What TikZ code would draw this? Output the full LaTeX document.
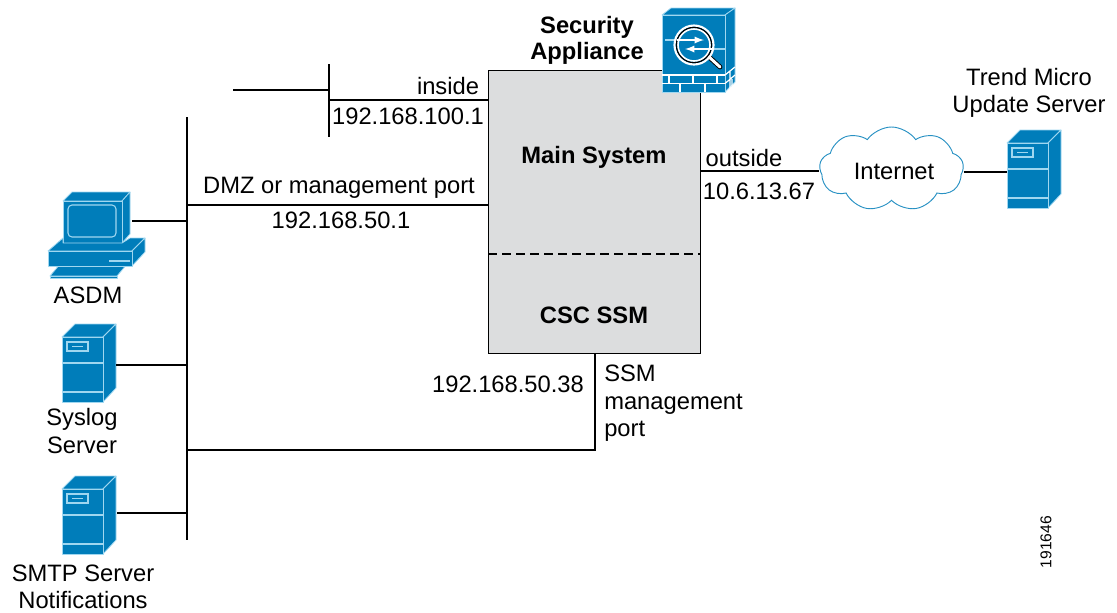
\documentclass[tikz,border=0pt]{standalone}
\usepackage{fontspec}
\setmainfont{Liberation Sans}
\usetikzlibrary{shapes.symbols}
\definecolor{iconblue}{RGB}{0,125,186}
\definecolor{iconline}{RGB}{160,215,240}
\definecolor{boxgray}{RGB}{220,221,222}
\definecolor{cloudline}{RGB}{40,145,195}
\tikzset{
  wire/.style={black,line width=0.85pt},
  label/.style={inner sep=0pt,font=\fontsize{17.8}{20.4}\selectfont,align=center},
  boldlabel/.style={label,font=\fontsize{17.8}{19}\selectfont\bfseries},
  iconedge/.style={draw=iconline,fill=iconblue,line width=0.6pt,line join=round},
  iconwhite/.style={draw=iconline,line width=0.8pt},
  servericon/.pic={
    \path[iconedge] (0,0) -- (41,0) -- (54,-13) -- (13,-13) -- cycle;
    \path[iconedge] (41,0) -- (54,-13) -- (54,51) -- (41,65) -- cycle;
    \path[iconedge] (0,0) rectangle (41,65);
    \draw[iconwhite] (0,26) -- (41,26) (0,55) -- (41,55);
    \draw[iconwhite] (5,5) rectangle (26,14);
    \draw[iconwhite] (10,9.5) -- (21,9.5);
    \coordinate (-port) at (54,28);
    \coordinate (-left) at (0,29);
  },
  pcicon/.pic={
    \path[iconedge] (0,9) -- (9,0) -- (67,0) -- (59,9) -- cycle;
    \path[iconedge] (59,9) -- (67,0) -- (67,42) -- (59,51) -- cycle;
    \path[iconedge] (0,9) rectangle (59,51);
    \draw[iconwhite,rounded corners=3pt] (5,13) rectangle (53,45);
    \path[iconedge] (-15,59) -- (0,46) -- (0,51) -- (59,51) -- (67,46) -- (82,46) -- (69,59) -- cycle;
    \path[iconedge] (69,59) -- (82,46) -- (82,60) -- (69,74) -- cycle;
    \path[iconedge] (-15,59) rectangle (69,74);
    \draw[iconline,line width=1.2pt] (46,69) -- (67,69);
    \path[iconedge] (-5,74.5) -- (-13,84) -- (54,84) -- (62,74.5) -- cycle;
    \path[iconedge] (-13,84) rectangle (54,86);
    \coordinate (-port) at (69,29);
  },
  firewallicon/.pic={
    \path[iconedge] (0,15) -- (9,8) -- (73,8) -- (63,15) -- cycle;
    \path[iconedge] (63,15) -- (73,8) -- (73,82) -- (63,92) -- cycle;
    \path[iconedge] (0,15) rectangle (63,92);
    \draw[white,line width=0.9pt] (0,75) -- (63,75) (0,83.5) -- (63,83.5);
    \draw[white,line width=0.9pt] (7,75) -- (7,83.5) (31,75) -- (31,83.5) (55,75) -- (55,83.5);
    \draw[white,line width=0.9pt] (18,83.5) -- (18,92) (43,83.5) -- (43,92);
    \draw[white,line width=0.9pt] (63,75) -- (73,67) (63,83.5) -- (73,75) (68,71) -- (68,88) (70,79) -- (70,86);
    \draw[iconline,line width=0.8pt] (3,40) -- (18,40) (52,49) -- (63,49);
    \draw[black,line width=3.6pt,line cap=round] (46,56) -- (58,67);
    \draw[white,line width=2.2pt,line cap=round] (46,56) -- (58,67);
    \draw[white,line width=1.6pt] (32,45) circle (19.5);
    \draw[black,line width=1pt] (32,45) circle (17.5);
    \draw[white,line width=1.2pt] (32,45) circle (16);
    \draw[white,line width=1.4pt,-latex] (15,40) -- (42,40);
    \draw[white,line width=1.4pt,-latex] (50,49) -- (23,49);
  }
}
\begin{document}
\begin{tikzpicture}[x=0.75pt,y=-0.75pt]
\useasboundingbox (0,0) rectangle (1117,612);
\node[draw=black,fill=boxgray,line width=0.7pt,minimum width=159pt,minimum height=212.25pt,inner sep=0pt] (asa) at (594,211.5) {};
\coordinate (dashleft) at (488,254);
\coordinate (dashright) at (700,254);
\draw[black,line width=0.8pt,dash pattern=on 7pt off 3.5pt] (dashleft) -- (dashright);
\node[boldlabel] (mainlabel) at (594,157) {Main System};
\node[boldlabel] (csclabel) at (594,315) {CSC SSM};
\node[boldlabel] (seclabel) at (587,40.5) {Security\\Appliance};
\pic (fw) at (662,0) {firewallicon};
\coordinate (busup) at (187,117);
\coordinate (busdown) at (187,540);
\draw[wire] (busup) -- (busdown);
\coordinate (insidetop) at (329,64);
\coordinate (insidedown) at (329,137);
\coordinate (insidestub) at (233,90);
\coordinate (insideport) at (329,100);
\draw[wire] (insidetop) -- (insidedown);
\draw[wire] (insidestub) -- (insidestub -| insidetop);
\draw[wire] (insideport) -- (insideport -| asa.west);
\coordinate (dmzport) at (187,205);
\draw[wire] (dmzport) -- (dmzport -| asa.west);
\pic (pc) at (63,192) {pcicon};
\pic (syslog) at (62,337) {servericon};
\pic (smtp) at (62,489) {servericon};
\pic (trend) at (1007,143) {servericon};
\coordinate (smtpport) at (117,513);
\draw[wire] (pc-port) -- (pc-port -| busup);
\draw[wire] (syslog-port) -- (syslog-port -| busup);
\draw[wire] (smtpport) -- (smtpport -| busup);
\coordinate (ssmtop) at (595,353);
\coordinate (ssmbus) at (187,450);
\draw[wire] (ssmtop) |- (ssmbus);
\node[cloud,cloud puffs=9,cloud puff arc=110,aspect=1.75,draw=cloudline,line width=0.7pt,minimum width=108pt,minimum height=63pt,inner sep=0pt] (inet) at (891.5,169) {};
\node[label] (inetlabel) at (894,171) {Internet};
\coordinate (outport) at (700,171);
\draw[wire] (outport) -- (inet.west |- outport);
\draw[wire] (inet.east |- trend-left) -- (trend-left);
\node[label] (insidelabel) at (448,86) {inside};
\node[label] (insideip) at (408,116) {192.168.100.1};
\node[label] (dmzlabel) at (339,187.5) {DMZ or management port};
\node[label] (dmzip) at (341,220) {192.168.50.1};
\node[label] (outlabel) at (744,158) {outside};
\node[label] (outip) at (759,191) {10.6.13.67};
\node[label] (ssmip) at (508,384) {192.168.50.38};
\node[label,align=left,anchor=north west] (ssmlabel) at (604,365) {SSM\\management\\port};
\node[label] (trendlabel) at (1029,92.5) {Trend Micro\\Update Server};
\node[label] (asdmlabel) at (88,295) {ASDM};
\node[label] (sysloglabel) at (82,431) {Syslog\\Server};
\node[label] (smtplabel) at (83,587) {SMTP Server\\Notifications};
\node[inner sep=0pt,rotate=90,font=\fontsize{11.7}{14}\selectfont] (figno) at (1046,542) {191646};
\end{tikzpicture}
\end{document}
